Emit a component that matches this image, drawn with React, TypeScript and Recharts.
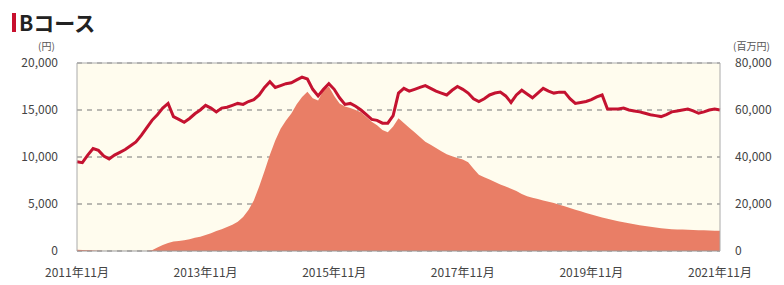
import { ComposedChart, Area, Line, XAxis, YAxis, CartesianGrid, ReferenceLine } from 'recharts'

// monthly points, 2011年11月 .. 2021年11月
const START_YEAR = 2011
const START_MONTH = 11

// 基準価額 (円)
const navValues = [
  9500, 9400, 10200, 10900, 10700, 10100, 9800, 10200, 10500, 10800,
  11200, 11600, 12300, 13100, 13900, 14500, 15200, 15700, 14300, 14000,
  13700, 14100, 14600, 15000, 15500, 15200, 14800, 15200, 15300, 15500,
  15700, 15600, 15900, 16100, 16600, 17400, 18000, 17400, 17600, 17800,
  17900, 18200, 18500, 18300, 17200, 16500, 17200, 17800, 17200, 16300,
  15600, 15700, 15400, 15000, 14500, 14000, 13900, 13600, 13600, 14400,
  16800, 17300, 17000, 17200, 17400, 17600, 17300, 17000, 16800, 16600,
  17100, 17500, 17200, 16800, 16200, 15900, 16200, 16600, 16800, 16900,
  16500, 15800, 16600, 17100, 16700, 16300, 16800, 17300, 17000, 16800,
  16900, 16900, 16200, 15700, 15800, 15900, 16100, 16400, 16600, 15100,
  15100, 15100, 15200, 15000, 14900, 14800, 14650, 14500, 14400, 14300,
  14500, 14800, 14900, 15000, 15100, 14900, 14650, 14800, 15000, 15100,
  15000,
]

// 純資産総額 (百万円)
const assetValues = [
  500, 400, 300, 200, 100, 0, 0, 0, 0, 0,
  0, 0, 0, 0, 300, 1500, 2600, 3400, 4000, 4300,
  4600, 5000, 5600, 6100, 6800, 7600, 8500, 9300, 10200, 11200,
  12400, 14500, 17500, 21500, 27500, 34000, 41000, 47000, 52000, 55500,
  58500, 62500, 65500, 67800, 65000, 64000, 68500, 70000, 66000, 62800,
  61500, 60800, 60000, 59000, 57000, 55000, 53500, 51500, 50500, 53000,
  56500, 54500, 52500, 50500, 48500, 46500, 45200, 43800, 42500, 41200,
  40300, 39600, 38900, 37800, 35000, 32500, 31400, 30400, 29400, 28300,
  27400, 26500, 25500, 24300, 23300, 22700, 22100, 21500, 21000, 20400,
  19700, 19000, 18300, 17600, 16900, 16200, 15500, 14900, 14300, 13700,
  13200, 12700, 12200, 11800, 11400, 11000, 10600, 10300, 10000, 9700,
  9500, 9300, 9200, 9100, 9000, 8900, 8850, 8800, 8700, 8650,
  8600,
]

const xTicks = [0, 24, 48, 72, 96, 120]
const leftTicks = [0, 5000, 10000, 15000, 20000]
const rightTicks = [0, 20000, 40000, 60000, 80000]

const monthLabel = (i: number) => {
  const total = START_MONTH - 1 + i
  return `${START_YEAR + Math.floor(total / 12)}年${(total % 12) + 1}月`
}

const data = navValues.map((nav, i) => ({ idx: i, nav, assets: assetValues[i] }))

const FONT = '"Noto Sans CJK JP", "Noto Sans", sans-serif'
const fmt = (v: number) => v.toLocaleString('en-US')

export default function App() {
  return (
    <div style={{ position: 'absolute', left: 0, top: 0, width: 784, height: 285, background: '#fff', fontFamily: FONT }}>
      <div style={{ position: 'absolute', left: 12, top: 13, width: 4, height: 19, background: '#C8102E' }} />
      <div style={{ position: 'absolute', left: 19, top: 8, fontSize: 21, fontWeight: 700, color: '#222', lineHeight: '28px' }}>
        Bコース
      </div>
      <div style={{ position: 'absolute', left: 38, top: 38, fontSize: 10, color: '#555' }}>(円)</div>
      <div style={{ position: 'absolute', left: 733, top: 38, fontSize: 10, color: '#555' }}>(百万円)</div>
      <div style={{ position: 'absolute', left: 0, top: 0 }}>
        <ComposedChart width={784} height={285} data={data} margin={{ top: 63, right: 0, bottom: 0, left: 0 }}>
          <CartesianGrid vertical={false} stroke="#777" strokeDasharray="5 5" fill="#FFFCEE" yAxisId="left" />
          <XAxis
            dataKey="idx"
            type="number"
            domain={[0, 120]}
            ticks={xTicks}
            tickFormatter={monthLabel}
            height={34}
            tickSize={0}
            tickMargin={17}
            axisLine={{ stroke: '#999' }}
            tick={{ fontSize: 12, fill: '#444', fontFamily: FONT }}
            interval={0}
          />
          <YAxis
            yAxisId="left"
            orientation="left"
            width={77}
            domain={[0, 20000]}
            ticks={leftTicks}
            tickFormatter={fmt}
            tickSize={0}
            tickMargin={19}
            axisLine={{ stroke: '#aaa' }}
            tick={{ fontSize: 12, fill: '#444', fontFamily: FONT }}
          />
          <YAxis
            yAxisId="right"
            orientation="right"
            width={64}
            domain={[0, 80000]}
            ticks={rightTicks}
            tickFormatter={fmt}
            tickSize={0}
            tickMargin={15}
            axisLine={{ stroke: '#aaa' }}
            tick={{ fontSize: 12, fill: '#444', fontFamily: FONT, textAnchor: 'start' }}
          />
          <Area
            yAxisId="right"
            dataKey="assets"
            type="linear"
            fill="#E97E66"
            fillOpacity={1}
            stroke="none"
            isAnimationActive={false}
          />
          <ReferenceLine yAxisId="left" y={20000} stroke="#aaa" />
          <Line
            yAxisId="left"
            dataKey="nav"
            type="linear"
            stroke="#C41230"
            strokeWidth={3}
            dot={false}
            isAnimationActive={false}
          />
        </ComposedChart>
      </div>
    </div>
  )
}
